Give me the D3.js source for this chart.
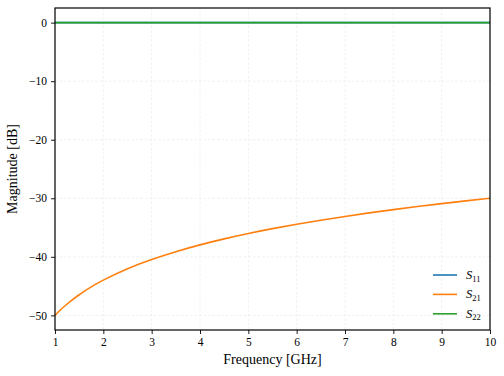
<!DOCTYPE html>
<html>
<head>
<meta charset="utf-8">
<script src="https://cdn.jsdelivr.net/npm/d3@7"></script>
<style>
  body { margin: 0; background: #fff; }
  svg { display: block; font-family: "Liberation Serif", "DejaVu Serif", serif; }
  svg text { font-family: "Liberation Serif", "DejaVu Serif", serif; }
</style>
</head>
<body>
<div class="canvas"></div>
<script>
// frequency points [GHz]
const freq = [1, 1.1, 1.25, 1.5, 1.75, 2, 2.5, 3, 3.5, 4, 4.5, 5, 5.5, 6, 6.5, 7, 7.5, 8, 8.5, 9, 9.5, 10];
// magnitudes [dB]
const s11 = [0, 0, 0, 0, 0, 0, 0, 0, 0, 0, 0, 0, 0, 0, 0, 0, 0, 0, 0, 0, 0, 0];
const s21 = [-50, -49.17, -48.06, -46.48, -45.14, -43.98, -42.04, -40.46, -39.12, -37.96, -36.94, -36.02, -35.19, -34.44, -33.74, -33.1, -32.5, -31.94, -31.41, -30.92, -30.45, -30];
const s22 = [0, 0, 0, 0, 0, 0, 0, 0, 0, 0, 0, 0, 0, 0, 0, 0, 0, 0, 0, 0, 0, 0];
const xTicks = [1, 2, 3, 4, 5, 6, 7, 8, 9, 10];
const yTicks = [0, -10, -20, -30, -40, -50];
const seriesNames = ["S11", "S21", "S22"];
const seriesColors = ["#1f77b4", "#ff7f0e", "#2ca02c"];

const width = 504, height = 376;
const margin = { left: 55, right: 14, top: 8, bottom: 46 };

const svg = d3.select(".canvas").append("svg")
  .attr("width", width)
  .attr("height", height);

const xScale = d3.scaleLinear().domain([1, 10]).range([margin.left, width - margin.right]);
const yScale = d3.scaleLinear().domain([-52.5, 2.5]).range([height - margin.bottom, margin.top]);

// grid
const grid = svg.append("g");
grid.selectAll("line.gx").data(xTicks).join("line")
  .attr("x1", d => xScale(d)).attr("x2", d => xScale(d))
  .attr("y1", margin.top).attr("y2", height - margin.bottom)
  .attr("stroke", "#ececec").attr("stroke-width", 0.8).attr("stroke-dasharray", "2.5,2");
grid.selectAll("line.gy").data(yTicks).join("line")
  .attr("y1", d => yScale(d)).attr("y2", d => yScale(d))
  .attr("x1", margin.left).attr("x2", width - margin.right)
  .attr("stroke", "#ececec").attr("stroke-width", 0.8).attr("stroke-dasharray", "2.5,2");

// series
const data = [s11, s21, s22];
const line = d3.line()
  .x((d, i) => xScale(freq[i]))
  .y(d => yScale(d))
  .curve(d3.curveNatural);

svg.append("g").selectAll("path").data(data).join("path")
  .attr("d", d => line(d))
  .attr("fill", "none")
  .attr("stroke", (d, i) => seriesColors[i])
  .attr("stroke-width", 1.6);

// axes
const fmt = d => (d < 0 ? "\u2212" + Math.abs(d) : d);
const xAxis = svg.append("g")
  .attr("transform", `translate(0,${height - margin.bottom})`)
  .call(d3.axisBottom(xScale).tickValues(xTicks).tickSize(4).tickPadding(4).tickFormat(fmt));
const yAxis = svg.append("g")
  .attr("transform", `translate(${margin.left},0)`)
  .call(d3.axisLeft(yScale).tickValues(yTicks).tickSize(4).tickPadding(4).tickFormat(fmt));
[xAxis, yAxis].forEach(a => {
  a.attr("font-family", null).attr("font-size", null);
  a.select(".domain").remove();
  a.selectAll("text").attr("font-size", 11.5).attr("fill", "#000");
  a.selectAll("line").attr("stroke", "#000").attr("stroke-width", 0.9);
});

// frame
svg.append("rect")
  .attr("x", margin.left).attr("y", margin.top)
  .attr("width", width - margin.left - margin.right)
  .attr("height", height - margin.top - margin.bottom)
  .attr("fill", "none").attr("stroke", "#000").attr("stroke-width", 1.2);

// axis labels
svg.append("text")
  .attr("x", (margin.left + width - margin.right) / 2)
  .attr("y", 364)
  .attr("text-anchor", "middle")
  .attr("font-size", 14)
  .text("Frequency [GHz]");
svg.append("text")
  .attr("transform", `translate(17,${(margin.top + height - margin.bottom) / 2}) rotate(-90)`)
  .attr("text-anchor", "middle")
  .attr("font-size", 14)
  .text("Magnitude [dB]");

// legend
const legend = svg.append("g");
seriesNames.forEach((name, i) => {
  const y = 275 + i * 19.4;
  legend.append("line")
    .attr("x1", 433).attr("x2", 457).attr("y1", y).attr("y2", y)
    .attr("stroke", seriesColors[i]).attr("stroke-width", 1.6);
  const t = legend.append("text").attr("x", 466).attr("y", y + 4).attr("font-size", 12.5);
  t.append("tspan").attr("font-style", "italic").text(name[0]);
  t.append("tspan").attr("font-size", 8.5).attr("dy", 2.5).text(name.slice(1));
});
</script>
</body>
</html>
